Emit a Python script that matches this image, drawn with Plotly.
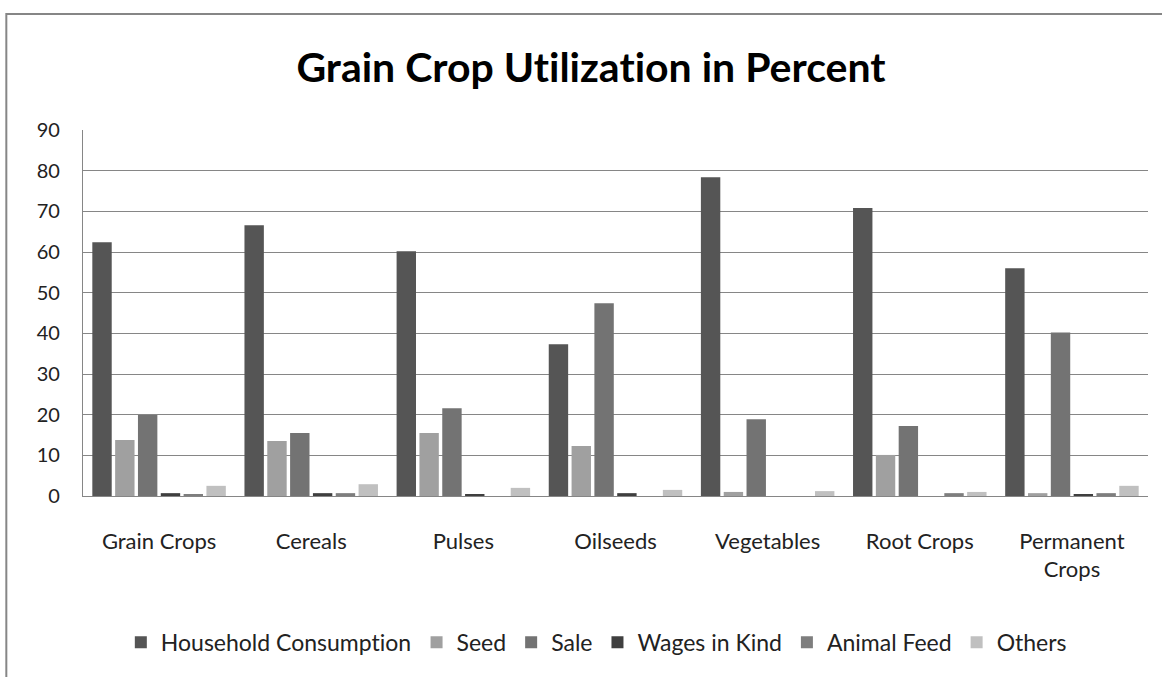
import plotly.graph_objects as go

categories = ["Grain Crops", "Cereals", "Pulses", "Oilseeds", "Vegetables", "Root Crops", "Permanent<br>Crops"]

household_consumption = [62.4, 66.6, 60.2, 37.3, 78.4, 70.8, 56.0]
seed = [13.8, 13.5, 15.5, 12.3, 1.0, 10.1, 0.7]
sale = [19.9, 15.5, 21.6, 47.4, 18.9, 17.2, 40.2]
wages_in_kind = [0.7, 0.7, 0.25, 0.7, 0.0, 0.0, 0.25]
animal_feed = [0.3, 0.7, 0.0, 0.0, 0.0, 0.7, 0.7]
others = [2.5, 2.9, 2.0, 1.5, 1.2, 1.0, 2.5]

series_names = ["Household Consumption", "Seed", "Sale", "Wages in Kind", "Animal Feed", "Others"]
series_values = [household_consumption, seed, sale, wages_in_kind, animal_feed, others]
series_colors = ["#555555", "#a0a0a0", "#737373", "#3f3f3f", "#7e7e7e", "#c0c0c0"]

y_ticks = [0, 10, 20, 30, 40, 50, 60, 70, 80, 90]

FONT = "Lato, 'Open Sans', sans-serif"

fig = go.Figure()
for name, vals, col in zip(series_names, series_values, series_colors):
    fig.add_trace(go.Bar(x=categories, y=vals, name=name, marker=dict(color=col, line=dict(width=0))))

fig.update_layout(
    width=1162, height=677,
    paper_bgcolor="white", plot_bgcolor="white",
    margin=dict(l=83, r=14, t=130, b=181),
    barmode="group", bargap=0.1, bargroupgap=0.15,
    title=dict(text="<b>Grain Crop Utilization in Percent</b>", x=591 / 1162, xanchor="center",
               xref="container", y=1 - 68 / 677, yref="container", yanchor="middle",
               font=dict(family=FONT, size=41, color="#000000")),
    font=dict(family=FONT, color="#222222"),
    legend=dict(orientation="h", x=0.482, xanchor="center", y=-0.400, yanchor="middle",
                font=dict(family=FONT, size=23, color="#222222"),
                itemwidth=30, traceorder="normal"),
    showlegend=True,
)
fig.update_yaxes(range=[0, 90], tickvals=y_ticks, showgrid=True, gridcolor="#868686", gridwidth=1.3,
                 showline=True, linecolor="#868686", linewidth=1.3, zeroline=False,
                 ticks="", ticklabelstandoff=18, tickfont=dict(family=FONT, size=20, color="#222222"))
fig.update_xaxes(showline=True, linecolor="#868686", linewidth=1.3, ticks="",
                 ticklabelstandoff=25, tickfont=dict(family=FONT, size=22, color="#222222"))

fig.add_shape(type="rect", xref="paper", yref="paper", x0=-0.072, x1=1.05, y0=-0.6, y1=1.317,
              line=dict(color="#868686", width=2), fillcolor="rgba(0,0,0,0)", layer="below")

post = (
    "document.body.style.margin='0';"
    "var s=document.createElement('style');"
    "s.textContent='text{font-variant-ligatures:none !important;font-feature-settings:\"liga\" 0 !important;}';"
    "document.head.appendChild(s);"
)
fig.write_html("out.html", config={"displayModeBar": False}, post_script=post)
